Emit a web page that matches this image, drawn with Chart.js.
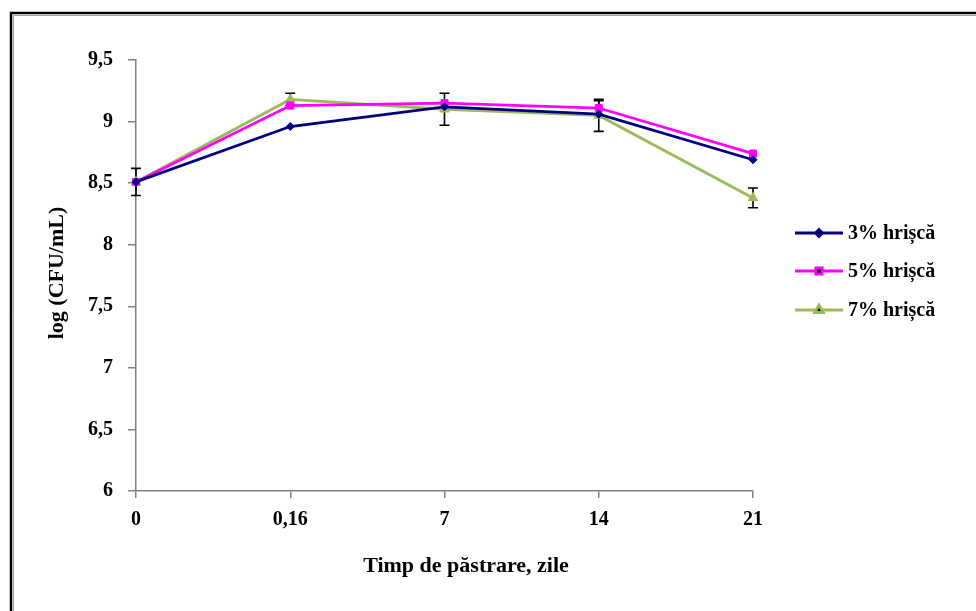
<!DOCTYPE html>
<html>
<head>
<meta charset="utf-8">
<title>log (CFU/mL)</title>
<script src="https://cdn.jsdelivr.net/npm/chart.js@4/dist/chart.umd.min.js"></script>
<style>
 html,body{margin:0;padding:0;background:#fff;}
 canvas{display:block;}
</style>
</head>
<body>
<canvas id="c" width="976" height="611"></canvas>
<script>
// zile de păstrare
const zile=['0','0,16','7','14','21'];
// log CFU/mL pentru fiecare concentrație de hrișcă
const h3=[8.51,8.96,9.12,9.06,8.69];
const h5=[8.51,9.13,9.15,9.11,8.74];
const h7=[8.51,9.18,9.10,9.05,8.38];
// abateri (bare de eroare), null = nu se afișează
const err3=[null,null,null,null,null];
const err5=[null,null,null,0.06,null];
const err7=[0.11,0.05,0.13,0.13,0.08];
const serii=['3% hrișcă','5% hrișcă','7% hrișcă'];

const SERIF='"Liberation Serif","DejaVu Serif",serif';
const COL=['#000080','#ff00ff','#9bbb59'];
const STYLE=['rectRot','rect','triangle'];
const RAD=[4,5,5.5];
const ERRS=[err3,err5,err7];

// bare de eroare negre, desenate sub linii
const errPlugin={id:'errbars',
  beforeDatasetsDraw(ch){
    const c=ch.ctx, x=ch.scales.x, y=ch.scales.y;
    c.save(); c.strokeStyle='#000'; c.lineWidth=1.6;
    ch.data.datasets.forEach((ds,di)=>{
      const e=ERRS[di];
      ds.data.forEach((v,i)=>{
        if(e[i]==null)return;
        const px=x.getPixelForValue(i), t=y.getPixelForValue(v+e[i]), b=y.getPixelForValue(v-e[i]);
        c.beginPath();
        c.moveTo(px,t);c.lineTo(px,b);
        c.moveTo(px-5,t);c.lineTo(px+5,t);
        c.moveTo(px-5,b);c.lineTo(px+5,b);
        c.stroke();
      });
    });
    c.restore();
  }};

// chenar, legendă și titlurile axelor
const decor={id:'decor',
  afterDraw(ch){
    const c=ch.ctx;
    c.save();
    c.strokeStyle='#000'; c.lineWidth=2.5;
    c.beginPath(); c.moveTo(11,611); c.lineTo(11,13); c.lineTo(976,13); c.stroke();
    c.strokeStyle='rgba(0,0,0,.35)'; c.lineWidth=1;
    c.beginPath(); c.moveTo(13.5,611); c.lineTo(13.5,15.5); c.lineTo(976,15.5); c.stroke();

    // legenda
    const ly=[233,271,310];
    serii.forEach((s,i)=>{
      c.strokeStyle=COL[i]; c.lineWidth=2.8;
      c.beginPath(); c.moveTo(795,ly[i]); c.lineTo(843,ly[i]); c.stroke();
      Chart.helpers.drawPoint(c,{pointStyle:STYLE[i],radius:RAD[i]-0.5,borderWidth:1},819,ly[i]);
      c.fillStyle='#000'; c.textBaseline='middle'; c.textAlign='left';
      c.font='bold 20px '+SERIF;
      c.fillText(s,848,ly[i]+1);
    });
    c.textAlign='center'; c.textBaseline='middle';
    c.font='bold 22px '+SERIF;
    c.fillText('Timp de păstrare, zile',466,566);
    c.translate(57,273); c.rotate(-Math.PI/2);
    c.font='bold 22px '+SERIF;
    c.fillText('log (CFU/mL)',0,0);
    c.restore();
  }};

Chart.defaults.font.family=SERIF;

new Chart(document.getElementById('c'),{
  type:'line',
  data:{labels:zile,
    datasets:[h3,h5,h7].map((d,i)=>({label:serii[i],data:d,borderColor:COL[i],backgroundColor:COL[i],
      borderWidth:2.8,pointStyle:STYLE[i],pointRadius:RAD[i],pointBorderWidth:1,tension:0}))},
  options:{responsive:false,animation:false,
    layout:{padding:{left:0,top:60,right:223,bottom:0}},
    plugins:{legend:{display:false},tooltip:{enabled:false}},
    scales:{
      x:{offset:false,
        grid:{drawOnChartArea:false,tickLength:7,color:'#808080',lineWidth:1.5},
        border:{color:'#808080',width:1.5},
        ticks:{padding:10,color:'#000',maxRotation:0,font:{size:20,weight:'bold'}},
        afterFit(s){s.height=120;}},
      y:{min:6,max:9.5,
        grid:{drawOnChartArea:false,tickLength:8,color:'#808080',lineWidth:1.5},
        border:{color:'#808080',width:1.5},
        ticks:{stepSize:0.5,padding:15,color:'#000',font:{size:20,weight:'bold'},
          callback:v=>String(v).replace('.',',')},
        afterFit(s){s.width=136;}}
    }},
  plugins:[errPlugin,decor]
});
</script>
</body>
</html>
